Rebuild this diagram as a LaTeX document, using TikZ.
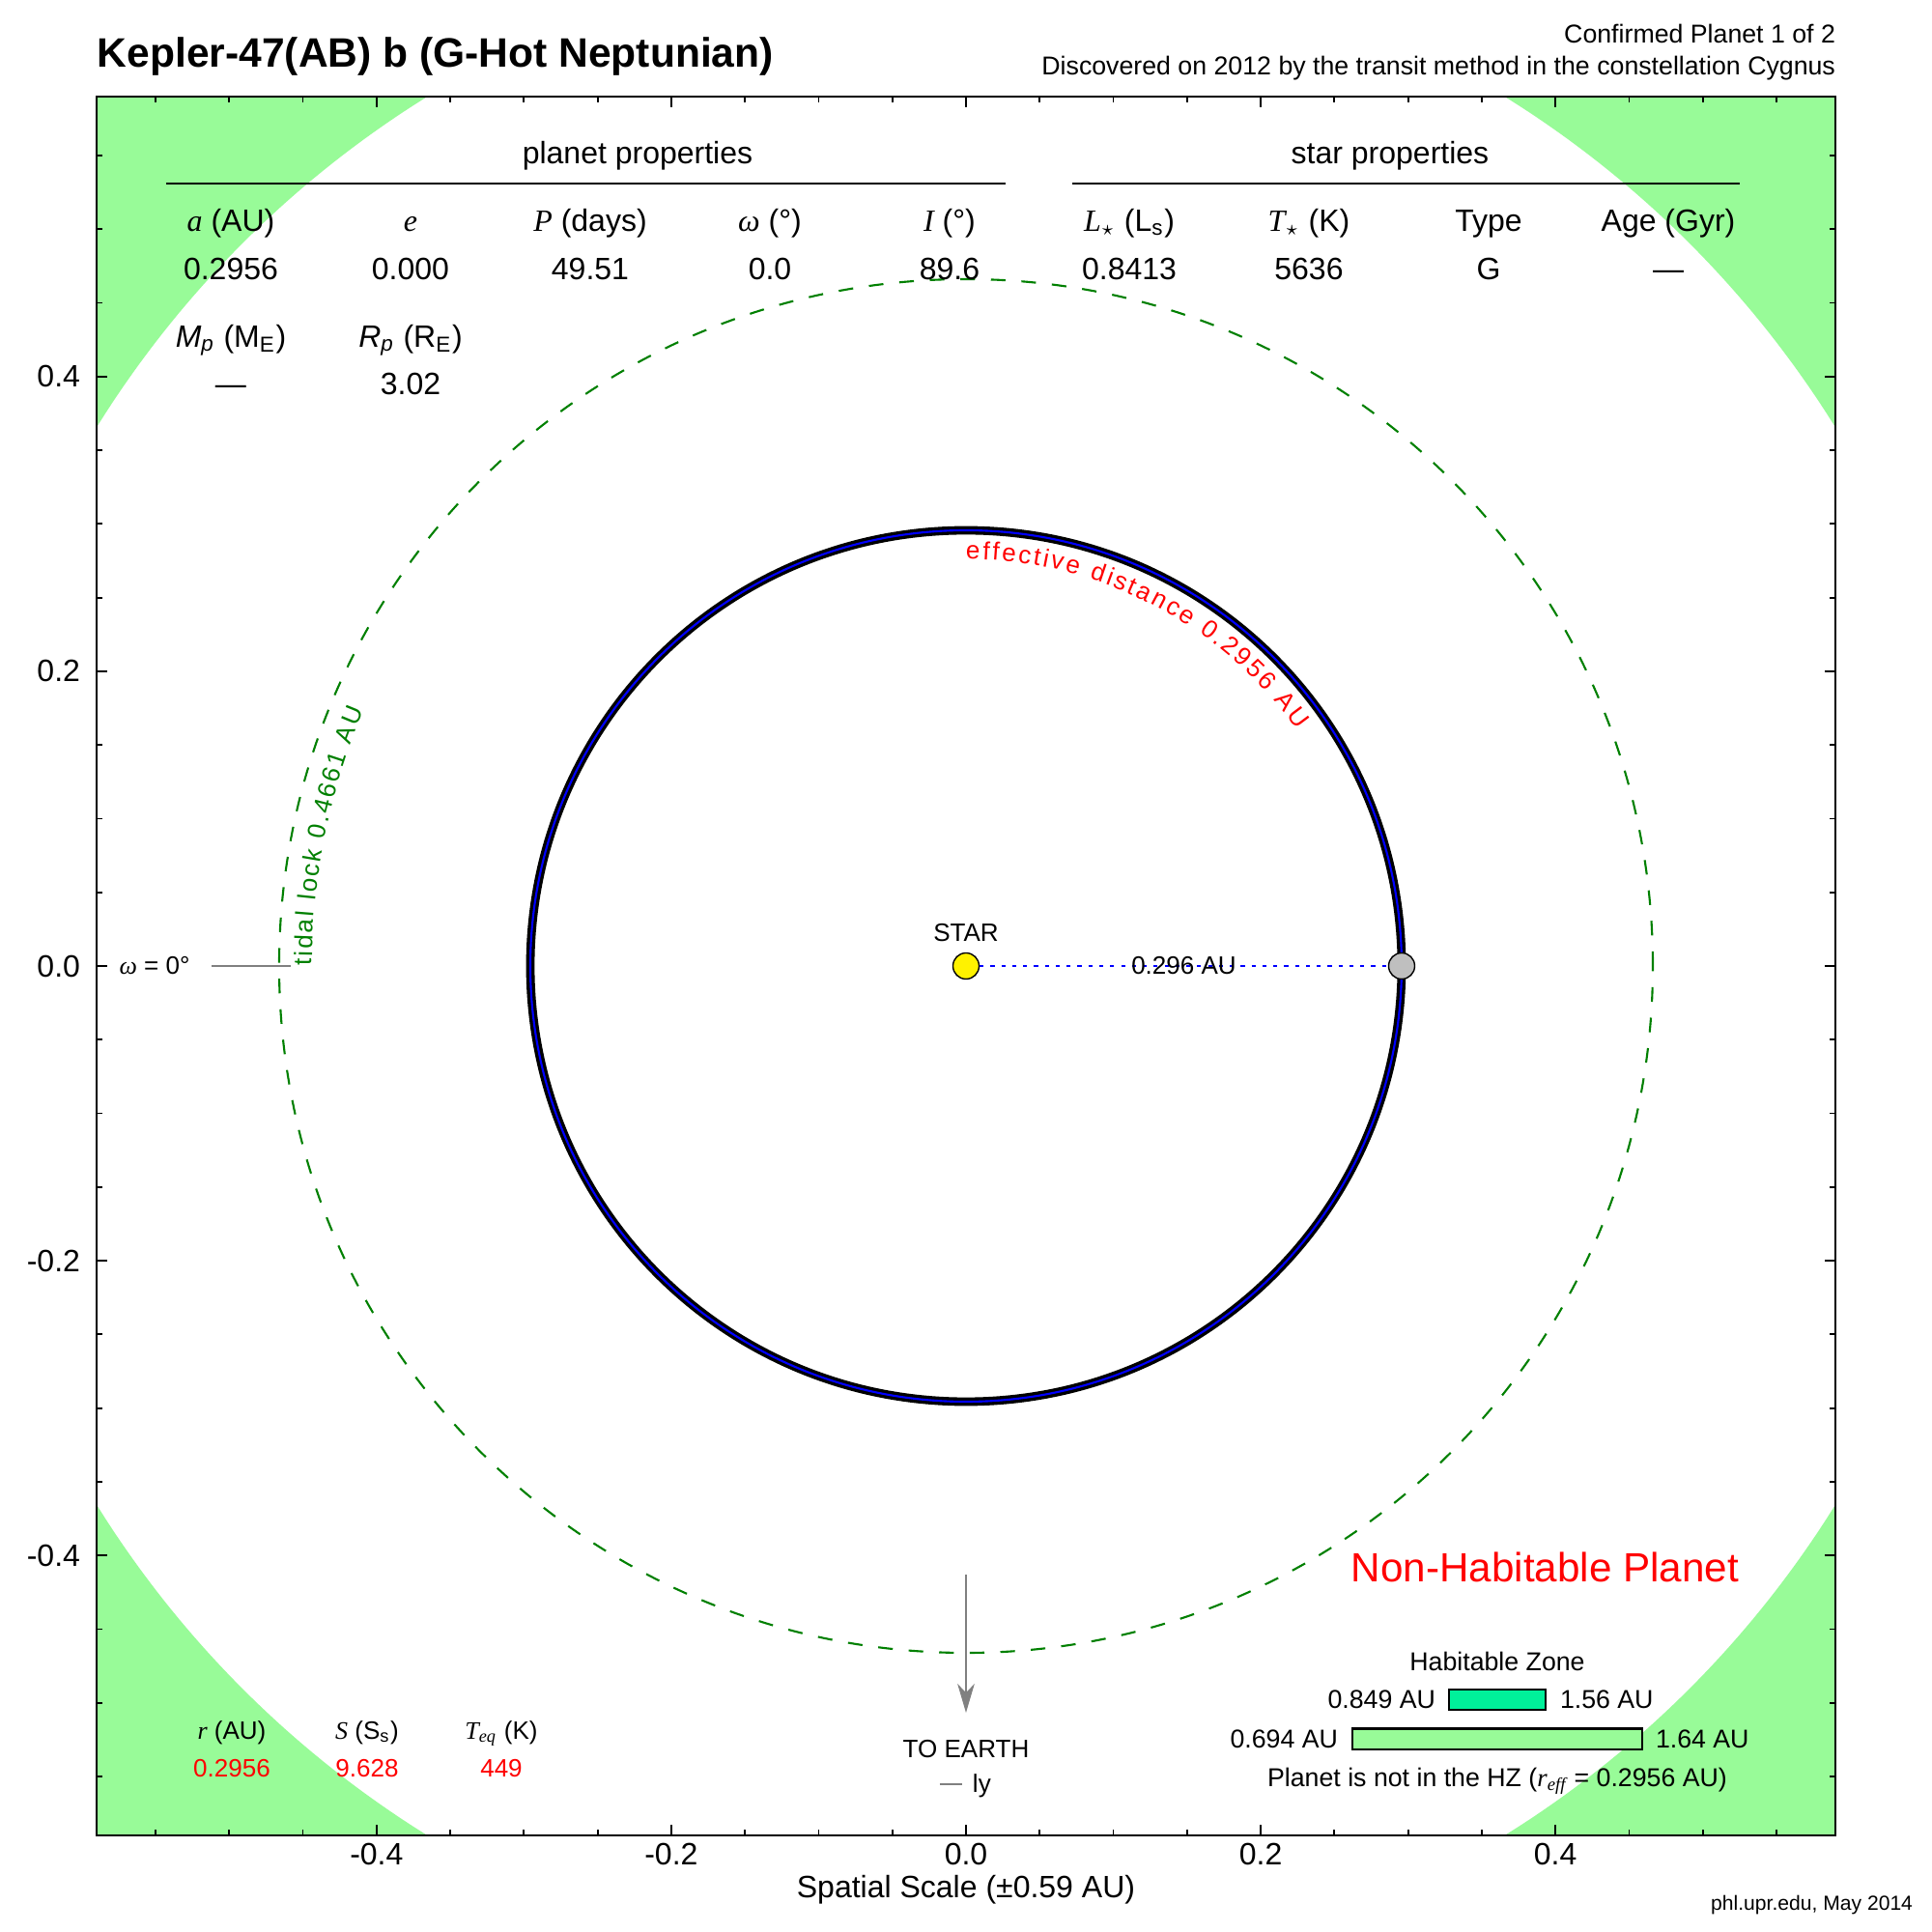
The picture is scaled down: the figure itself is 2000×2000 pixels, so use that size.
\documentclass[tikz,border=0pt]{standalone}
\usepackage{fontspec}
\setmainfont{Liberation Sans}
\newfontfamily\tnr{Liberation Serif}
\usetikzlibrary{arrows.meta,decorations.text}
\definecolor{palegreenc}{RGB}{152,251,152}
\definecolor{hzcons}{RGB}{0,240,154}
\definecolor{tidalgreen}{RGB}{0,128,0}
\definecolor{grayline}{RGB}{128,128,128}
\newcommand\setfs[1]{\fontsize{#1}{1.2\dimexpr#1pt\relax}\selectfont}
\tikzset{
  txt/.style={inner sep=0pt, outer sep=0pt},
  titletxt/.style={txt, font=\bfseries\setfs{12.1}, anchor=base west},
  infotxt/.style={txt, font=\setfs{7.6}, anchor=base east},
  medtxt/.style={txt, font=\setfs{9.1}, anchor=base},
  smalltxt/.style={txt, font=\setfs{7.4}},
  axisline/.style={line width=0.5pt, black},
  rule/.style={line width=0.6pt, black},
  tidal/.style={tidalgreen, line width=0.6pt, dash pattern=on 4.3pt off 4.7pt},
  distline/.style={blue, line width=0.6pt, dash pattern=on 1.2pt off 2pt},
  earthline/.style={grayline, line width=0.6pt},
  bodydot/.style={circle, draw=black, line width=0.4pt, minimum size=2.7mm, inner sep=0pt},
  hzbar/.style={draw=black, line width=0.6pt}
}
\begin{document}
\begin{tikzpicture}[x=0.01cm, y=0.01cm]
\useasboundingbox (-1000,-1000) rectangle (1000,1000);
\fill[white] (-1000,-1000) rectangle (1000,1000);
% habitable-zone corners
\begin{scope}
\clip (-900,-900) rectangle (900,900);
\fill[palegreenc, even odd rule] (-1300,-1300) rectangle (1300,1300) (0,0) circle (1058.6);
\end{scope}
% tidal lock circle
\draw[tidal] (0,0) circle (711);
\path[decorate, decoration={text along path, text align=fit to path,
  text={|\setfs{7.4}\color{tidalgreen}|tidal lock 0.4661 AU}}]
  (180:677) arc[start angle=180, end angle=157, radius=677];
% orbit
\draw[black, line width=2.5pt] (0,0) circle (451);
\draw[blue, line width=0.6pt] (0,0) circle (451);
\path[decorate, decoration={text along path, text align=fit to path,
  text={|\setfs{7.4}\color{red}|effective distance 0.2956 AU}}]
  (90:421) arc[start angle=90, end angle=35.5, radius=421];
% star and planet
\node[bodydot, fill=yellow] (star) at (0,0) {};
\node[bodydot, fill=lightgray] (planet) at (451,0) {};
\draw[distline] (star) -- (planet) node[smalltxt, midway, text=black] (distlab) {0.296 AU};
\node[smalltxt, anchor=base] (starlab) at (0,25.5) {STAR};
% omega
\node[smalltxt] (omegalab) at (-840,0) {{\tnr\itshape ω} = 0°};
\coordinate (om1) at (-781,0);
\coordinate (om2) at (-699,0);
\draw[earthline] (om1) -- (om2);
% to earth
\coordinate (earthTop) at (0,-630);
\coordinate (earthTip) at (0,-773);
\draw[earthline, -{Stealth[length=8.5pt, width=5pt, inset=2.6pt]}] (earthTop) -- (earthTip);
\node[smalltxt, anchor=base] (earthlab) at (0,-819) {TO EARTH};
\coordinate (ly1) at (-27,-847);
\coordinate (ly2) at (-4,-847);
\draw[earthline] (ly1) -- (ly2);
\node[smalltxt, anchor=base west] (lylab) at (7,-855) {ly};
% title and info
\node[titletxt] (title) at (-899,930) {Kepler-47(AB) b (G-Hot Neptunian)};
\node[infotxt] (conf) at (900,955) {Confirmed Planet 1 of 2};
\node[infotxt] (disc) at (900,922) {Discovered on 2012 by the transit method in the constellation Cygnus};
% tables
\node[medtxt] (pphead) at (-340,830) {planet properties};
\node[medtxt] (sphead) at (439,830) {star properties};
\coordinate (pl1) at (-828,810); \coordinate (pl2) at (41,810);
\coordinate (sl1) at (110,810); \coordinate (sl2) at (801,810);
\draw[rule] (pl1) -- (pl2);
\draw[rule] (sl1) -- (sl2);
\node[medtxt] (h1) at (-761,760) {{\tnr\itshape a} (AU)};
\node[medtxt] (h2) at (-575,760) {{\tnr\itshape e}};
\node[medtxt] (h3) at (-389,760) {{\tnr\itshape P} (days)};
\node[medtxt] (h4) at (-203,760) {{\tnr\itshape ω} (°)};
\node[medtxt] (h5) at (-17,760) {{\tnr\itshape I} (°)};
\node[medtxt] (h6) at (169,760) {{\tnr\itshape L}$_\star$ (L\textsubscript{s})};
\node[medtxt] (h7) at (355,760) {{\tnr\itshape T}$_\star$ (K)};
\node[medtxt] (h8) at (541,760) {Type};
\node[medtxt] (h9) at (727,760) {Age (Gyr)};
\node[medtxt] (v1) at (-761,710.5) {0.2956};
\node[medtxt] (v2) at (-575,710.5) {0.000};
\node[medtxt] (v3) at (-389,710.5) {49.51};
\node[medtxt] (v4) at (-203,710.5) {0.0};
\node[medtxt] (v5) at (-17,710.5) {89.6};
\node[medtxt] (v6) at (169,710.5) {0.8413};
\node[medtxt] (v7) at (355,710.5) {5636};
\node[medtxt] (v8) at (541,710.5) {G};
\node[medtxt] (v9) at (727,710.5) {—};
\node[medtxt] (h10) at (-761,640) {{\itshape M\textsubscript{p}} (M\textsubscript{E})};
\node[medtxt] (h11) at (-575,640) {{\itshape R\textsubscript{p}} (R\textsubscript{E})};
\node[medtxt] (v10) at (-761,591) {—};
\node[medtxt] (v11) at (-575,591) {3.02};
% bottom left table
\node[smalltxt, anchor=base] (b1) at (-760,-800) {{\tnr\itshape r} (AU)};
\node[smalltxt, anchor=base] (b2) at (-620,-800) {{\tnr\itshape S} (S\textsubscript{s})};
\node[smalltxt, anchor=base] (b3) at (-481,-800) {{\tnr\itshape T\textsubscript{eq}} (K)};
\node[smalltxt, anchor=base, red] (bv1) at (-760,-839) {0.2956};
\node[smalltxt, anchor=base, red] (bv2) at (-620,-839) {9.628};
\node[smalltxt, anchor=base, red] (bv3) at (-481,-839) {449};
% habitability
\node[txt, font=\setfs{12.0}, red, anchor=base east] (nonhab) at (800,-637.7) {Non-Habitable Planet};
\node[txt, font=\setfs{7.6}, anchor=base] (hzlab) at (550,-729.6) {Habitable Zone};
\node[hzbar, fill=hzcons, minimum width=1cm, minimum height=2.17mm, inner sep=0pt] (bar1) at (550,-759.5) {};
\node[hzbar, fill=palegreenc, minimum width=3cm, minimum height=2.15mm, inner sep=0pt] (bar2) at (550,-800.2) {};
\node[txt, font=\setfs{7.6}, anchor=east] (bar1l) at (486,-759.5) {0.849 AU};
\node[txt, font=\setfs{7.6}, anchor=west] (bar1r) at (615,-759.5) {1.56 AU};
\node[txt, font=\setfs{7.6}, anchor=east] (bar2l) at (385,-800.2) {0.694 AU};
\node[txt, font=\setfs{7.6}, anchor=west] (bar2r) at (714,-800.2) {1.64 AU};
\node[txt, font=\setfs{7.6}, anchor=base] (notin) at (550,-849.5) {Planet is not in the HZ ({\tnr\itshape r\textsubscript{eff}} = 0.2956 AU)};
% frame and ticks
\draw[axisline] (-900,-900) rectangle (900,900);
\foreach \k in {-11,...,11} {
  \pgfmathsetmacro\p{\k*76.27}
  \pgfmathsetmacro\L{(mod(abs(\k),4)==0) ? 11 : 6}
  \draw[axisline] (\p,-900) -- ++(0,\L);
  \draw[axisline] (\p,900) -- ++(0,-\L);
  \draw[axisline] (-900,\p) -- ++(\L,0);
  \draw[axisline] (900,\p) -- ++(-\L,0);
}
\foreach \v/\t in {-2/-0.4,-1/-0.2,0/0.0,1/0.2,2/0.4} {
  \node[txt, font=\setfs{9.1}, anchor=east] at (-917,\v*305.08) {\t};
  \node[txt, font=\setfs{9.1}, anchor=base] at (\v*305.08,-930) {\t};
}
\node[txt, font=\setfs{9.1}, anchor=base] (xlabel) at (0,-964) {Spatial Scale (±0.59 AU)};
\node[txt, font=\setfs{6}, anchor=base east] (credit) at (980,-977) {phl.upr.edu, May 2014};
\end{tikzpicture}
\end{document}
